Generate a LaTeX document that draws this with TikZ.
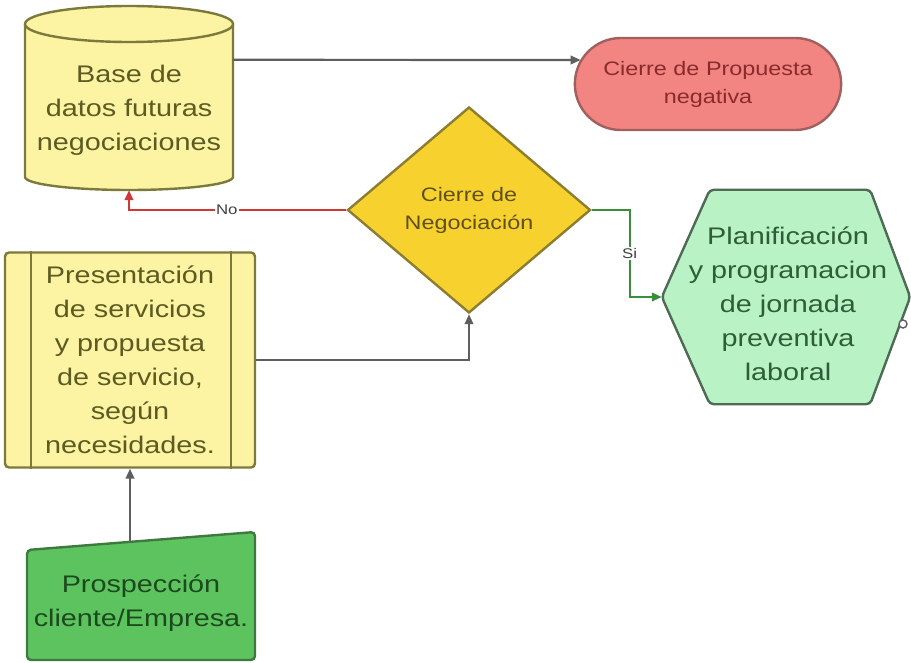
\documentclass[tikz,border=0pt]{standalone}
\usepackage{fontspec}
\setmainfont[FakeStretch=1.2]{Liberation Sans}
\usetikzlibrary{shapes.geometric,shapes.misc,arrows.meta,calc}
\definecolor{yfill}{HTML}{FCF3A3}
\definecolor{yline}{HTML}{7B7A3C}
\definecolor{ytext}{HTML}{5B5B22}
\definecolor{rfill}{HTML}{F28482}
\definecolor{rline}{HTML}{A0605E}
\definecolor{rtext}{HTML}{8A2B2B}
\definecolor{dfill}{HTML}{F7D22E}
\definecolor{dline}{HTML}{8C7D30}
\definecolor{dtext}{HTML}{5E5020}
\definecolor{hfill}{HTML}{B9F2C4}
\definecolor{hline}{HTML}{4F6A55}
\definecolor{htext}{HTML}{2E5E35}
\definecolor{pfill}{HTML}{5DC35F}
\definecolor{pline}{HTML}{3E7A40}
\definecolor{ptext}{HTML}{1C4A1E}
\definecolor{conn}{HTML}{5E5E5E}
\definecolor{redc}{HTML}{D03838}
\definecolor{greenc}{HTML}{3A8E3A}
\tikzset{
  bigtext/.style={font=\fontsize{24}{34}\selectfont, align=center},
  smalltext/.style={font=\fontsize{19.5}{28}\selectfont, align=center},
  tip/.style={-{Triangle[length=10pt,width=8.5pt]}},
  conline/.style={line width=2.2pt, draw=conn, tip},
  shapeline/.style={line width=2.4pt},
  lbl/.style={font=\fontsize{14}{16}\selectfont, fill=white, inner sep=1pt, text=black!75}
}
\begin{document}
\begin{tikzpicture}[x=1pt,y=-1pt]
\useasboundingbox[fill=white] (0,0) rectangle (911,663);

% Cylinder (database)
\fill[yfill] (25,24) -- (25,177) .. controls (25,184.2) and (71.6,190) .. (129,190)
  .. controls (186.4,190) and (233,184.2) .. (233,177) -- (233,24) -- cycle;
\draw[yline, shapeline] (25,24) -- (25,177) .. controls (25,184.2) and (71.6,190) .. (129,190)
  .. controls (186.4,190) and (233,184.2) .. (233,177) -- (233,24);
\draw[yline, shapeline, fill=yfill] (129,24) ellipse [x radius=104, y radius=18];
\node[bigtext, text=ytext, minimum width=208pt, minimum height=160pt, inner sep=0pt] (db) at (129,110) {Base de\\datos futuras\\negociaciones};

% Terminal
\node[rounded rectangle, draw=rline, fill=rfill, shapeline, minimum width=273pt, minimum height=92pt, smalltext, text=rtext] (term) at (708,84) {Cierre de Propuesta\\negativa};

% Decision
\node[diamond, draw=dline, fill=dfill, shapeline, minimum width=243pt, minimum height=206pt, inner sep=0pt, smalltext, text=dtext] (dec) at (469,210) {Cierre de\\Negociación};

% Hexagon
\node[bigtext, text=htext, minimum width=248pt, minimum height=214pt, inner sep=0pt] (hex) at (786,297) {};
\draw[hline, shapeline, fill=hfill, rounded corners=4pt] (hex.west) -- ($(hex.north west)+(48,0)$) -- ($(hex.north east)+(-40,0)$)
  -- (hex.east) -- ($(hex.south east)+(-40,0)$) -- ($(hex.south west)+(48,0)$) -- cycle;
\node[bigtext, text=htext] (hextxt) at (788,304) {Planificación\\y programacion\\de jornada\\preventiva\\laboral};
\node[circle, draw=conn, line width=1.4pt, fill=white, inner sep=0pt, minimum size=8pt] (dot) at (903,324) {};

% Predefined process
\node[rectangle, rounded corners=4pt, draw=yline, fill=yfill, shapeline, minimum width=250pt, minimum height=215pt, inner sep=0pt, bigtext, text=ytext] (pres) at (130,360) {Presentación\\de servicios\\y propuesta\\de servicio,\\según\\necesidades.};
\draw[yline, shapeline] ($(pres.north west)+(27,0)$) -- ($(pres.south west)+(27,0)$);
\draw[yline, shapeline] ($(pres.north east)+(-25,0)$) -- ($(pres.south east)+(-25,0)$);

% Manual input
\draw[pline, shapeline, fill=pfill, rounded corners=4pt] (27,660) -- (27,550) -- (255,532) -- (255,660) -- cycle;
\node[bigtext, text=ptext] (pros) at (141,603) {Prospección\\cliente/Empresa.};
\coordinate (prostop) at (130,542);

% Connectors
\draw[conline] ($(db.north east)+(0,30)$) -- ($(term.west)+(7,-24)$);
\draw[conline, draw=redc] (dec.west) -- (dec.west -| db.south) node[lbl, pos=0.55] {No} -- (db.south);
\draw[conline, draw=greenc] (dec.east) -- ($(dec.east)+(38,0)$) |- node[lbl, pos=0.25] {Si} (hex.west);
\draw[conline] (pres.east) -- (pres.east -| dec.south) -- (dec.south);
\draw[conline] (prostop) -- (pres.south);
\end{tikzpicture}
\end{document}
